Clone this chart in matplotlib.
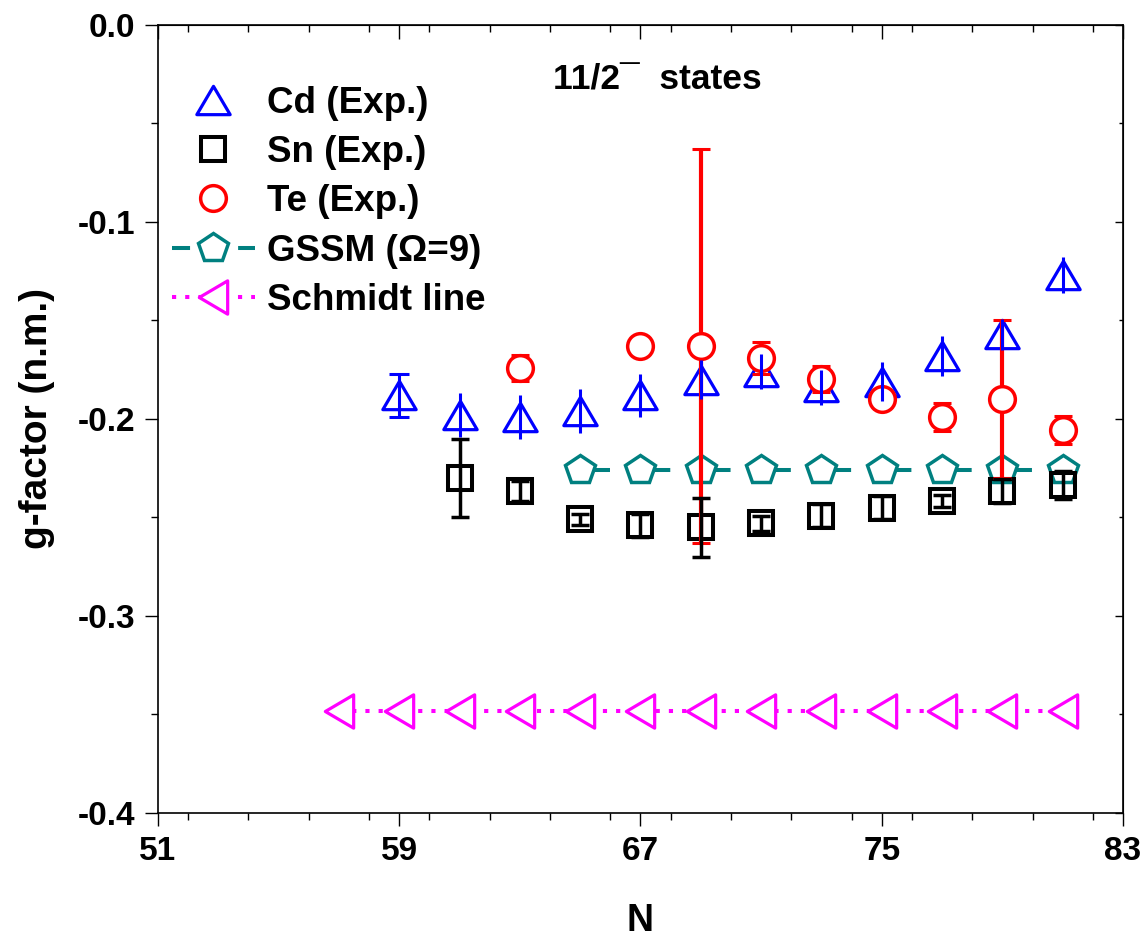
import matplotlib
matplotlib.use('Agg')
import matplotlib.pyplot as plt
from matplotlib.lines import Line2D
from matplotlib.path import Path
from matplotlib.ticker import MultipleLocator, FormatStrFormatter

plt.rcParams['font.family'] = ['Liberation Sans', 'DejaVu Sans']
plt.rcParams['font.weight'] = 'bold'
plt.rcParams['axes.unicode_minus'] = False
plt.rcParams['lines.scale_dashes'] = False

# g-factors (n.m.) of the 11/2- states vs neutron number N
cd_n = [59, 61, 63, 65, 67, 69, 71, 73, 75, 77, 79, 81]
cd_g = [-0.188, -0.198, -0.199, -0.196, -0.188, -0.180, -0.176, -0.184, -0.181, -0.168, -0.157, -0.127]
cd_err = [0.011, 0.011, 0.011, 0.011, 0.011, 0.010, 0.009, 0.009, 0.010, 0.010, 0.008, 0.009]
cd_capped = [True, False, False, False, False, False, False, False, False, False, False, False]

sn_n = [61, 63, 65, 67, 69, 71, 73, 75, 77, 79, 81]
sn_g = [-0.230, -0.2365, -0.251, -0.254, -0.255, -0.253, -0.249, -0.245, -0.2415, -0.2365, -0.2335]
sn_err = [0.020, 0.005, 0.003, 0.006, 0.015, 0.004, 0.006, 0.006, 0.003, 0.006, 0.007]

te_n = [63, 67, 69, 71, 73, 75, 77, 79, 81]
te_g = [-0.174, -0.163, -0.163, -0.169, -0.1795, -0.190, -0.199, -0.190, -0.2055]
te_err = [0.0066, 0.003, 0.100, 0.008, 0.0066, 0.004, 0.007, 0.040, 0.007]

gssm_n = [65, 67, 69, 71, 73, 75, 77, 79, 81]
gssm_g = [-0.226, -0.226, -0.226, -0.226, -0.226, -0.226, -0.226, -0.226, -0.226]

schmidt_n = [57, 59, 61, 63, 65, 67, 69, 71, 73, 75, 77, 79, 81]
schmidt_g = [-0.348, -0.348, -0.348, -0.348, -0.348, -0.348, -0.348,
             -0.348, -0.348, -0.348, -0.348, -0.348, -0.348]

x_ticks = [51, 59, 67, 75, 83]
y_ticks = [-0.4, -0.3, -0.2, -0.1, 0.0]

# flattened triangles (wider than tall / taller than wide)
codes = [Path.MOVETO, Path.LINETO, Path.LINETO, Path.CLOSEPOLY]
tri_up = Path([(0, 0.85), (-1, -0.85), (1, -0.85), (0, 0.85)], codes)
tri_left = Path([(-0.85, 0), (0.85, 1), (0.85, -1), (-0.85, 0)], codes)

TEAL = '#008080'
cd_style = dict(marker=tri_up, ms=24, mew=2.3, mfc='none', mec='blue', ls='none')
sn_style = dict(marker='s', ms=17.5, mew=2.9, mfc='none', mec='black', ls='none')
te_style = dict(marker='o', ms=18.5, mew=2.5, mfc='white', mec='red', ls='none')

fig = plt.figure(figsize=(11.48, 9.39), dpi=100)
ax = fig.add_axes([0.1376, 0.1342, 0.8406, 0.8392])

# theory lines
ax.plot(gssm_n, gssm_g, color=TEAL, lw=2.9, dashes=(21.6, 21.8),
        marker='p', ms=22, mew=2.5, mfc='white', mec=TEAL, zorder=2)
ax.plot(schmidt_n, schmidt_g, color='magenta', lw=2.9, dashes=(3.0, 6.5),
        marker=tri_left, ms=24, mew=2.3, mfc='white', mec='magenta', zorder=2)

# experimental markers
ax.plot(cd_n, cd_g, zorder=3, **cd_style)
ax.plot(sn_n, sn_g, zorder=3, **sn_style)

ax.errorbar(te_n, te_g, yerr=te_err, fmt='none', ecolor='red', elinewidth=3.0,
            capsize=6.5, capthick=2.2, zorder=4)
ax.plot(te_n, te_g, zorder=5, **te_style)

for n, g, e, capped in zip(cd_n, cd_g, cd_err, cd_capped):
    ax.errorbar([n], [g], yerr=[e], fmt='none', ecolor='blue', elinewidth=2.2,
                capsize=7 if capped else 0, capthick=2.2, zorder=6)
ax.errorbar(sn_n, sn_g, yerr=sn_err, fmt='none', ecolor='black', elinewidth=2.5,
            capsize=6.5, capthick=2.5, zorder=6)

ax.set_xlim(51, 83)
ax.set_ylim(-0.4, 0.0)
ax.set_xticks(x_ticks)
ax.set_yticks(y_ticks)
ax.xaxis.set_minor_locator(MultipleLocator(2))
ax.yaxis.set_minor_locator(MultipleLocator(0.05))
ax.yaxis.set_major_formatter(FormatStrFormatter('%.1f'))
ax.tick_params(which='major', direction='out', length=9.5, width=1.0, labelsize=24, pad=7)
ax.tick_params(which='minor', direction='out', length=5, width=1.0)
for sp in ax.spines.values():
    sp.set_linewidth(1.2)

# inward ticks on the top and right frame
top = ax.secondary_xaxis('top')
top.set_xticks(x_ticks)
top.xaxis.set_minor_locator(MultipleLocator(2))
top.tick_params(which='major', direction='in', length=10, width=1.0, labeltop=False)
top.tick_params(which='minor', direction='in', length=5, width=1.0)
right = ax.secondary_yaxis('right')
right.set_yticks(y_ticks)
right.yaxis.set_minor_locator(MultipleLocator(0.05))
right.tick_params(which='major', direction='in', length=6, width=1.0, labelright=False)
right.tick_params(which='minor', direction='in', length=3, width=1.0)

ax.set_xlabel('N', fontsize=27, fontweight='bold', labelpad=26)
ax.set_ylabel('g-factor (n.m.)', fontsize=28, fontweight='bold', labelpad=16)

ax.text(0.409, 0.9175, '11/2\u00af  states', transform=ax.transAxes,
        fontsize=25.5, fontweight='bold', ha='left', va='baseline')

handles = [
    Line2D([], [], **cd_style),
    Line2D([], [], **sn_style),
    Line2D([], [], **{**te_style, 'mfc': 'none'}),
    Line2D([], [], color=TEAL, lw=2.9, dashes=(13, 10.8), marker='p', ms=22,
           mew=2.5, mfc='white', mec=TEAL),
    Line2D([], [], color='magenta', lw=2.9, dashes=(3.0, 6.5), marker=tri_left,
           ms=24, mew=2.3, mfc='white', mec='magenta'),
]
labels = ['Cd (Exp.)', 'Sn (Exp.)', 'Te (Exp.)', 'GSSM (\u03a9=9)', 'Schmidt line']
ax.legend(handles, labels, loc='upper left', bbox_to_anchor=(0.0145, 0.923),
          frameon=False, borderpad=0, borderaxespad=0, numpoints=1,
          handlelength=2.25, handletextpad=0.33, labelspacing=0.39,
          prop={'size': 26.5, 'weight': 'bold'})

fig.savefig('out.png', dpi=100)
